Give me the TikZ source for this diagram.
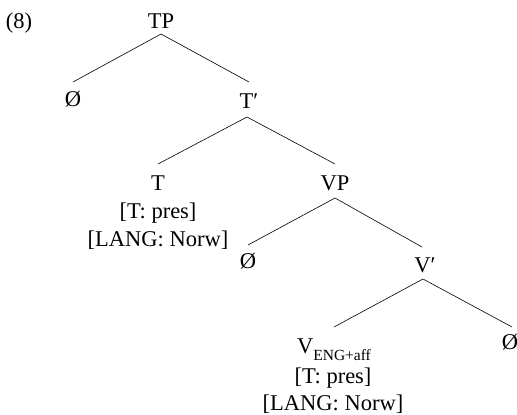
\documentclass[tikz,border=0pt]{standalone}
\usepackage{fontspec}
\setmainfont{Liberation Serif}
\begin{document}
\begin{tikzpicture}[x=1pt,y=-1pt,
  lab/.style={anchor=base,inner sep=0pt,font=\fontsize{22.5}{27}\selectfont},
  branch/.style={line width=0.6pt}]
\useasboundingbox (0,0) rectangle (517,415);
\node[lab] (ex) at (19,28) {(8)};
\node[lab] (TP) at (161,28) {TP};
\node[lab] (O1) at (73,106) {Ø};
\node[lab] (Tbar) at (249,108) {T′};
\node[lab] (T) at (158,190) {T};
\node[lab] (Tf1) at (158,218) {[T: pres]};
\node[lab] (Tf2) at (158,246) {[LANG: Norw]};
\node[lab] (VP) at (335,190) {VP};
\node[lab] (O2) at (248,268) {Ø};
\node[lab] (Vbar) at (425,272) {V′};
\node[lab] (V) at (334,353) {V\raisebox{-7pt}{\fontsize{15.5}{15.5}\selectfont ENG+aff}};
\node[lab] (Vf1) at (333,383) {[T: pres]};
\node[lab] (Vf2) at (333,410) {[LANG: Norw]};
\node[lab] (O3) at (510,349) {Ø};
\draw[branch] ([yshift=-6pt]TP.base) -- ([yshift=24pt]O1.base);
\draw[branch] ([yshift=-6pt]TP.base) -- ([yshift=26pt]Tbar.base);
\draw[branch] ([xshift=-2pt,yshift=-9pt]Tbar.base) -- ([yshift=26pt]T.base);
\draw[branch] ([xshift=-2pt,yshift=-9pt]Tbar.base) -- ([yshift=26pt]VP.base);
\draw[branch] ([yshift=-8pt]VP.base) -- ([yshift=23pt]O2.base);
\draw[branch] ([yshift=-8pt]VP.base) -- ([xshift=-3pt,yshift=25pt]Vbar.base);
\draw[branch] ([xshift=-2pt,yshift=-7pt]Vbar.base) -- ([yshift=26pt]V.base);
\draw[branch] ([xshift=-2pt,yshift=-7pt]Vbar.base) -- ([xshift=2pt,yshift=22pt]O3.base);
\end{tikzpicture}
\end{document}
